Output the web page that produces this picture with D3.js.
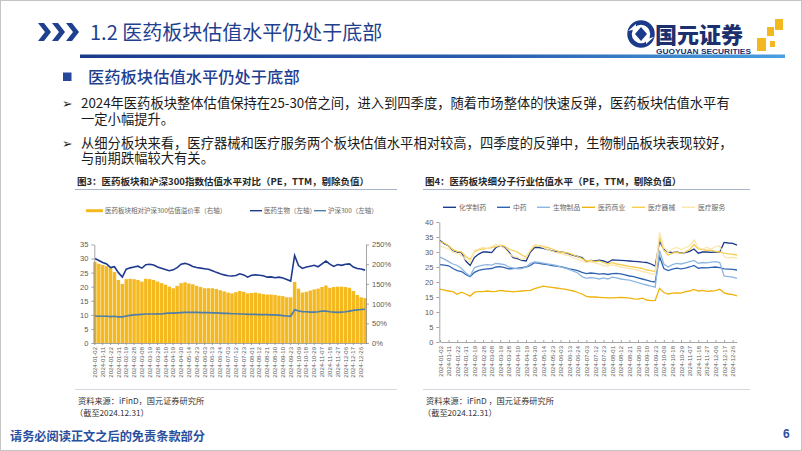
<!DOCTYPE html>
<html>
<head>
<meta charset="utf-8">
<script src="https://cdn.jsdelivr.net/npm/d3@7"></script>
<style>
  body { margin: 0; background: #fff; }
  svg { display: block; font-family: "Noto Sans CJK SC", "Noto Sans", sans-serif; }
</style>
</head>
<body>
<svg id="slide" width="802" height="451"></svg>
<script>
// --- Data ---
const dates = ["2024-01-02","2024-01-05","2024-01-11","2024-01-16","2024-01-22","2024-01-25","2024-01-31","2024-02-06","2024-02-19","2024-02-22","2024-02-28","2024-03-04","2024-03-08","2024-03-13","2024-03-19","2024-03-22","2024-03-28","2024-04-02","2024-04-10","2024-04-15","2024-04-19","2024-04-24","2024-04-30","2024-05-09","2024-05-14","2024-05-17","2024-05-23","2024-05-28","2024-06-03","2024-06-06","2024-06-13","2024-06-18","2024-06-24","2024-06-27","2024-07-03","2024-07-08","2024-07-12","2024-07-17","2024-07-23","2024-07-26","2024-08-01","2024-08-06","2024-08-12","2024-08-15","2024-08-21","2024-08-26","2024-08-30","2024-09-04","2024-09-10","2024-09-13","2024-09-23","2024-10-08","2024-10-09","2024-10-14","2024-10-18","2024-10-23","2024-10-29","2024-11-01","2024-11-07","2024-11-12","2024-11-18","2024-11-21","2024-11-27","2024-12-02","2024-12-06","2024-12-11","2024-12-17","2024-12-20","2024-12-26","2024-12-31"];

const tickLabels = ["2024-01-02","2024-01-11","2024-01-22","2024-01-31","2024-02-19","2024-02-28","2024-03-08","2024-03-19","2024-03-28","2024-04-10","2024-04-19","2024-04-30","2024-05-14","2024-05-23","2024-06-03","2024-06-13","2024-06-24","2024-07-03","2024-07-12","2024-07-23","2024-08-01","2024-08-12","2024-08-21","2024-08-30","2024-09-10","2024-09-23","2024-10-09","2024-10-18","2024-10-29","2024-11-07","2024-11-18","2024-11-27","2024-12-06","2024-12-17","2024-12-26"];

// Fig 3: premium (%, right axis), 医药生物 PE and 沪深300 PE (left axis)
const premium = [206,201,198,195,190,180,160,150,162,163,162,160,156,163,162,160,156,152,148,143,139,145,152,154,151,149,145,142,139,139,139,137,134,131,128,126,129,132,130,126,127,128,126,124,123,123,122,120,119,116,116,155,138,128,130,133,136,138,142,146,140,142,143,143,142,140,132,122,116,114];
const medPE = [30.0,29.3,28.6,28.1,26.8,27.1,25.0,23.4,26.2,26.7,27.0,27.3,26.6,27.8,28.0,27.7,27.0,26.6,26.1,25.7,26.0,26.8,28.0,28.3,27.9,27.2,26.8,26.6,26.4,26.2,25.7,25.1,24.6,24.2,23.9,23.8,24.0,24.6,24.2,23.4,24.1,24.2,24.1,23.9,23.4,23.5,23.2,23.4,23.1,22.6,22.0,31.1,27.5,26.5,27.0,27.3,27.6,27.1,28.1,29.1,28.0,27.2,27.9,27.6,28.0,28.1,27.0,26.5,26.3,25.9];
const hs300PE = [9.6,9.5,9.5,9.5,9.4,9.5,9.3,9.3,9.6,9.8,10.0,10.1,10.2,10.3,10.3,10.3,10.4,10.3,10.5,10.6,10.6,10.7,10.8,10.9,10.9,10.9,10.9,10.8,10.8,10.8,10.7,10.7,10.6,10.5,10.5,10.4,10.4,10.3,10.3,10.2,10.2,10.2,10.1,10.1,10.1,10.0,10.0,9.9,9.7,9.6,9.5,11.8,11.4,11.1,11.1,11.0,11.0,11.1,11.3,11.3,11.1,11.0,10.9,11.0,11.1,11.3,11.6,11.8,11.9,12.0];
const leftTicks1 = [0,5,10,15,20,25,30,35];
const rightTicks1 = [0,50,100,150,200,250];

// Fig 4: sub-sector PE
const chemPE = [33.8,32.8,32.0,30.5,30.0,29.8,27.0,25.5,28.2,29.3,30.0,30.0,29.8,31.5,32.1,31.5,30.0,28.1,27.8,27.2,27.0,30.0,31.5,31.5,31.2,30.8,30.4,30.1,30.0,29.8,29.4,28.9,28.5,28.1,26.8,27.2,27.0,27.3,27.0,26.5,27.4,27.3,27.2,27.1,27.0,26.9,26.8,26.6,26.5,26.0,25.3,33.5,31.0,30.0,29.8,30.0,29.6,29.8,30.2,31.0,29.6,30.0,30.0,29.9,30.0,30.0,33.2,33.0,32.9,32.3];
const tcmPE = [25.8,25.6,25.4,24.5,23.8,23.5,22.5,21.8,23.2,23.9,24.2,24.4,24.5,25.0,25.1,24.8,24.4,24.5,24.6,24.8,25.0,25.5,26.5,26.2,26.0,25.8,25.5,25.3,25.1,24.8,24.4,24.1,23.8,23.2,22.8,23.0,22.9,22.6,22.8,22.5,22.8,22.9,22.7,22.4,22.0,21.8,21.4,21.0,20.6,20.2,20.0,28.5,24.5,23.8,24.3,24.6,24.4,24.6,25.0,25.5,24.6,24.8,24.7,24.9,25.0,24.8,24.4,24.3,24.2,24.0];
const bioPE = [28.3,27.6,26.8,26.0,25.5,24.5,23.0,22.0,24.8,25.3,25.6,25.8,25.6,26.2,26.0,25.8,25.0,24.6,24.4,24.5,25.0,26.2,26.7,26.5,26.3,26.0,25.8,25.5,25.0,24.6,24.2,23.6,23.0,21.8,21.2,21.5,21.3,21.0,21.4,21.0,21.6,21.4,21.0,20.8,20.6,20.2,19.8,19.4,19.0,18.6,18.3,30.5,26.0,25.0,25.8,26.2,26.0,26.4,26.8,27.2,26.2,26.5,26.4,26.6,26.8,26.5,22.0,21.8,21.6,21.2];
const distPE = [17.6,17.3,17.0,16.8,15.9,16.6,16.0,15.3,16.6,16.8,16.8,17.0,16.8,16.9,17.2,17.0,16.9,16.7,16.9,17.0,17.1,17.2,17.8,18.2,18.6,18.4,18.2,18.0,17.8,17.6,17.3,17.0,16.5,16.0,15.2,15.0,15.0,14.9,14.8,14.7,14.7,14.8,14.9,14.8,14.6,14.4,14.3,14.6,14.0,13.8,13.9,17.9,16.5,16.0,16.3,16.4,16.3,16.8,17.0,17.5,17.0,17.2,16.9,17.0,17.1,17.6,16.4,16.0,15.8,15.4];
const devicePE = [33.5,33.0,32.0,30.8,30.2,30.0,28.5,27.5,30.0,30.8,31.0,31.2,31.5,31.8,32.3,32.0,31.0,30.5,30.0,29.0,28.3,30.5,32.0,32.2,31.8,31.5,31.0,30.5,30.0,29.8,29.6,29.0,28.5,27.8,27.0,27.2,26.8,27.0,26.5,26.0,26.5,26.0,25.8,25.5,25.2,25.0,24.8,24.5,24.0,23.8,23.5,35.0,30.5,29.0,29.6,30.0,29.5,30.0,30.8,32.5,31.0,30.8,30.5,30.6,30.2,30.0,29.6,29.4,29.2,29.0];
const servicePE = [32.0,31.5,31.0,30.0,29.5,28.8,27.5,26.5,30.5,31.0,31.5,31.2,31.8,32.5,32.0,31.2,29.5,28.5,28.2,27.5,28.0,30.8,32.5,32.0,31.5,30.8,30.2,29.8,29.5,29.0,28.8,28.0,27.5,27.0,26.5,26.8,26.4,26.0,25.5,25.3,25.8,25.4,25.0,24.8,24.5,24.2,24.0,23.5,23.2,22.8,22.5,36.5,31.5,30.0,31.0,31.5,30.8,31.5,32.0,34.0,31.5,31.0,31.5,31.0,31.8,32.0,28.5,28.0,28.2,28.0];
const yTicks2 = [0,5,10,15,20,25,30,35,40];

const seriesNames2 = ["化学制药","中药","生物制品","医药商业","医疗器械","医疗服务"];
const seriesColors2 = ["#1c3a8c","#2f62b3","#8fb6e2","#efb30c","#f7cd4e","#fbe6ae"];
const seriesValues2 = [chemPE, tcmPE, bioPE, distPE, devicePE, servicePE];

const NAVY = "#1f3f8f";
const AXIS_FONT = "'Liberation Sans', Arial, sans-serif";

const svg = d3.select("#slide");

// frame
svg.append("rect").attr("x", 0.5).attr("y", 0.5).attr("width", 801).attr("height", 450)
  .attr("fill", "#fff").attr("stroke", "#c4c4c4");

// --- Header ---
const chevron = x0 => `M${x0},23L${x0 + 6},23L${x0 + 13},32L${x0 + 6},41L${x0},41L${x0 + 7},32Z`;
[38, 52, 66].forEach(x0 => svg.append("path").attr("d", chevron(x0)).attr("fill", NAVY));

svg.append("text").attr("x", 90).attr("y", 39.5)
  .attr("font-size", 20).attr("fill", NAVY)
  .text("1.2 医药板块估值水平仍处于底部");

const defs = svg.append("defs");
const grad = defs.append("linearGradient").attr("id", "hdr-grad");
grad.append("stop").attr("offset", "0%").attr("stop-color", "#1b3a8a");
grad.append("stop").attr("offset", "60%").attr("stop-color", "#2a5fb0");
grad.append("stop").attr("offset", "100%").attr("stop-color", "#4aa0e0");
svg.append("rect").attr("x", 80).attr("y", 54.5).attr("width", 705).attr("height", 3.5)
  .attr("fill", "url(#hdr-grad)");

// logo
const logo = svg.append("g");
logo.append("circle").attr("cx", 641).attr("cy", 34).attr("r", 11.5)
  .attr("fill", "none").attr("stroke", "#1c3a8c").attr("stroke-width", 4.5);
logo.append("path").attr("d", "M628,31L636,24L636,29Z").attr("fill", "#fff");
logo.append("path").attr("d", "M654,37L646,44L646,39Z").attr("fill", "#fff");
logo.append("path").attr("d", "M641,27L647,34L641,41L635,34Z").attr("fill", "#1c3a8c");
logo.append("text").attr("x", 655).attr("y", 42.5).attr("font-size", 22).attr("font-weight", 900)
  .attr("fill", "#1c2f6e").text("国元证券");
logo.append("text").attr("x", 656).attr("y", 54).attr("font-size", 7.2).attr("font-weight", 700)
  .attr("font-family", AXIS_FONT).attr("fill", "#1c2f6e")
  .attr("textLength", 95).attr("lengthAdjust", "spacingAndGlyphs").text("GUOYUAN SECURITIES");
[[757, 38, 9, 13], [767, 27, 7, 9], [775, 19, 8, 11], [770, 41, 5, 6]].forEach(([x, y, w, h]) =>
  logo.append("rect").attr("x", x).attr("y", y).attr("width", w).attr("height", h).attr("fill", "#f2b820"));

// --- Section heading and bullets ---
svg.append("rect").attr("x", 63).attr("y", 72.5).attr("width", 8.5).attr("height", 8.5).attr("fill", "#27479a");
svg.append("text").attr("x", 88).attr("y", 83).attr("font-size", 16.3).attr("font-weight", 500).attr("fill", NAVY)
  .text("医药板块估值水平仍处于底部");

const bullets = [
  { y: 108, lines: ["2024年医药板块整体估值保持在25-30倍之间，进入到四季度，随着市场整体的快速反弹，医药板块估值水平有", "一定小幅提升。"] },
  { y: 147.5, lines: ["从细分板块来看，医疗器械和医疗服务两个板块估值水平相对较高，四季度的反弹中，生物制品板块表现较好，", "与前期跌幅较大有关。"] },
];
bullets.forEach(b => {
  svg.append("text").attr("x", 62).attr("y", b.y).attr("font-size", 12.5)
    .attr("font-family", "'DejaVu Sans'").attr("fill", "#222").text("➢");
  const t = svg.append("text").attr("y", b.y).attr("font-size", 13.3).attr("fill", "#1a1a1a");
  b.lines.forEach((ln, i) => {
    t.append("tspan").attr("x", 81).attr("dy", i === 0 ? 0 : 15.5).text(ln);
  });
});

// --- helpers ---
function styleAxis(g, size) {
  g.attr("font-size", size).attr("font-family", AXIS_FONT);
  g.select(".domain").attr("stroke", "#8f8f8f").attr("stroke-width", 0.8);
  g.selectAll(".tick line").attr("stroke", "#8f8f8f").attr("stroke-width", 0.8);
  g.selectAll(".tick text").attr("fill", "#5a5a5a");
}
function rotateLabels(g) {
  g.selectAll(".tick text")
    .attr("transform", "rotate(-90)")
    .attr("text-anchor", "end")
    .attr("x", -4).attr("y", 0).attr("dy", "0.35em");
}
function chartFrame(x0, x1, titleText, yTitle) {
  svg.append("text").attr("x", x0 + 2).attr("y", yTitle).attr("font-size", 9.5).attr("font-weight", 700)
    .attr("fill", "#262626").text(titleText);
  svg.append("line").attr("x1", x0).attr("x2", x1).attr("y1", 189.5).attr("y2", 189.5)
    .attr("stroke", "#a7b3c6").attr("stroke-width", 1.2);
  svg.append("line").attr("x1", x0).attr("x2", x1).attr("y1", 389.5).attr("y2", 389.5)
    .attr("stroke", "#c9ced6").attr("stroke-width", 0.8);
  svg.append("text").attr("x", x0 + 3).attr("y", 404).attr("font-size", 8.2).attr("fill", "#333")
    .text(x0 < 400 ? "资料来源：iFinD，国元证券研究所" : "资料来源：iFinD ，国元证券研究所");
  svg.append("text").attr("x", x0).attr("y", 415.5).attr("font-size", 8.2).attr("fill", "#333")
    .text("（截至2024.12.31）");
}

// --- Figure 3 ---
chartFrame(75, 397, "图3：医药板块和沪深300指数估值水平对比（PE，TTM，剔除负值）", 184.5);

const x1 = d3.scaleBand().domain(dates).range([93, 367]).paddingInner(0.12).paddingOuter(0.05);
const yL = d3.scaleLinear().domain([0, 35]).range([343, 244.5]);
const yR = d3.scaleLinear().domain([0, 250]).range([343, 244.5]);
const cx1 = d => x1(d) + x1.bandwidth() / 2;

const c1 = svg.append("g");
c1.append("g").selectAll("rect").data(dates).join("rect")
  .attr("x", d => x1(d)).attr("width", x1.bandwidth())
  .attr("y", (d, i) => yR(premium[i])).attr("height", (d, i) => yR(0) - yR(premium[i]))
  .attr("fill", "#f5b920");

const line1 = yScale => d3.line().x((v, i) => cx1(dates[i])).y(v => yScale(v));
c1.append("path").datum(hs300PE).attr("d", line1(yL))
  .attr("fill", "none").attr("stroke", "#4f7ea7").attr("stroke-width", 1.7);
c1.append("path").datum(medPE).attr("d", line1(yL))
  .attr("fill", "none").attr("stroke", "#1d3a8e").attr("stroke-width", 1.6);

const axL1 = c1.append("g").attr("transform", "translate(94.3,0)")
  .call(d3.axisLeft(yL).tickValues(leftTicks1).tickSize(3).tickSizeOuter(0));
styleAxis(axL1, 7.5);
const axR1 = c1.append("g").attr("transform", "translate(366,0)")
  .call(d3.axisRight(yR).tickValues(rightTicks1).tickSize(3).tickSizeOuter(0).tickFormat(d => d + "%"));
styleAxis(axR1, 7.5);
const axB1 = c1.append("g").attr("transform", "translate(0,343)")
  .call(d3.axisBottom(x1).tickValues(tickLabels).tickSize(2).tickSizeOuter(0));
styleAxis(axB1, 6);
rotateLabels(axB1);

// legend fig 3
const lg1 = svg.append("g").attr("font-size", 6.5).attr("fill", "#666");
lg1.append("rect").attr("x", 86).attr("y", 209.2).attr("width", 17).attr("height", 3).attr("fill", "#f5b920");
lg1.append("text").attr("x", 105).attr("y", 213).text("医药板块相对沪深300估值溢价率（右轴）");
lg1.append("line").attr("x1", 250).attr("x2", 262).attr("y1", 210.7).attr("y2", 210.7)
  .attr("stroke", "#1d3a8e").attr("stroke-width", 1.4);
lg1.append("text").attr("x", 264).attr("y", 213).text("医药生物（左轴）");
lg1.append("line").attr("x1", 314).attr("x2", 326).attr("y1", 210.7).attr("y2", 210.7)
  .attr("stroke", "#4f7ea7").attr("stroke-width", 1.4);
lg1.append("text").attr("x", 328).attr("y", 213).text("沪深300（左轴）");

// --- Figure 4 ---
chartFrame(423, 750, "图4：医药板块细分子行业估值水平（PE，TTM，剔除负值）", 184.5);

const x2 = d3.scalePoint().domain(dates).range([440, 737]);
const y2 = d3.scaleLinear().domain([0, 40]).range([342, 222]);
const c2 = svg.append("g");
const line2 = d3.line().x((v, i) => x2(dates[i])).y(v => y2(v));
seriesValues2.forEach((vals, s) => {
  c2.append("path").datum(vals).attr("d", line2)
    .attr("fill", "none").attr("stroke", seriesColors2[s]).attr("stroke-width", 1.3);
});
const axL2 = c2.append("g").attr("transform", "translate(439.3,0)")
  .call(d3.axisLeft(y2).tickValues(yTicks2).tickSize(3).tickSizeOuter(0));
styleAxis(axL2, 7.5);
const axB2 = c2.append("g").attr("transform", "translate(0,342)")
  .call(d3.axisBottom(x2).tickValues(tickLabels).tickSize(-2).tickSizeOuter(0));
styleAxis(axB2, 6);
rotateLabels(axB2);

// legend fig 4
const lg2 = svg.append("g").attr("font-size", 6.8).attr("fill", "#666");
const legendX2 = [443, 497, 537, 582, 632, 682];
seriesNames2.forEach((name, s) => {
  lg2.append("line").attr("x1", legendX2[s]).attr("x2", legendX2[s] + 13)
    .attr("y1", 207.3).attr("y2", 207.3).attr("stroke", seriesColors2[s]).attr("stroke-width", 1.4);
  lg2.append("text").attr("x", legendX2[s] + 16).attr("y", 209.7).text(name);
});

// --- Footer ---
svg.append("text").attr("x", 10).attr("y", 440.5).attr("font-size", 12.2).attr("font-weight", 700)
  .attr("fill", "#2a4f9e").text("请务必阅读正文之后的免责条款部分");
svg.append("text").attr("x", 783).attr("y", 438).attr("font-size", 12).attr("font-weight", 700)
  .attr("font-family", AXIS_FONT).attr("fill", "#2a4f9e").text("6");
</script>
</body>
</html>
